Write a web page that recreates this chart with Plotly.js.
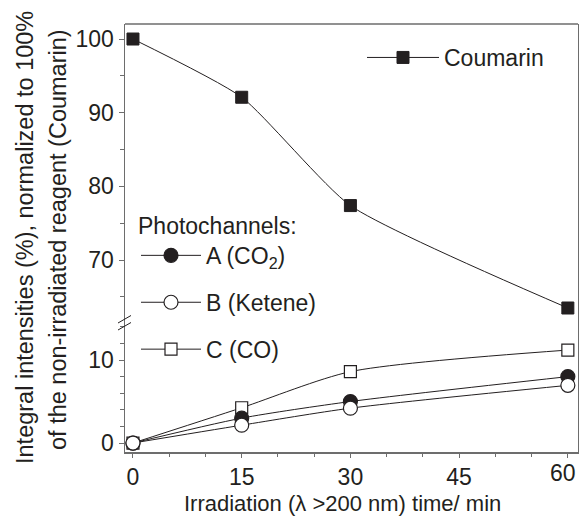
<!DOCTYPE html>
<html>
<head>
<meta charset="utf-8">
<script src="https://cdn.plot.ly/plotly-3.0.1.min.js"></script>
<style>html,body{margin:0;padding:0;background:#fff;}#chart{width:579px;height:516px;}</style>
</head>
<body>
<div id="chart"></div>
<script>
// Data
const time = [0, 15, 30, 60];
const coumarin = [100, 92.1, 77.4, 63.5];
const chanA = [0, 3.0, 5.0, 8.0];   // A (CO2)
const chanB = [0, 2.15, 4.2, 6.95]; // B (Ketene)
const chanC = [0, 4.25, 8.6, 11.2]; // C (CO)
const xTicks = [0, 15, 30, 45, 60];
const xTickText = ['0', '15', '30', '45', ''];  // "60" drawn as annotation (pulled in from the edge)
const upperTicks = [70, 80, 90, 100];
const lowerTicks = [0, 10];

const ink = '#231f20';
const axisCol = '#6d6d6d';
const FONT = 'Liberation Sans, Arial, sans-serif';
const FS = 23;

const L = 125, R = 578, T = 24, B = 452, W = 579, H = 516;
const pw = R - L, ph = B - T;
const breakPx = 322;
const splitFrac = (B - breakPx) / ph;
const px = v => (v - L) / pw;
const py = v => (B - v) / ph;

const lineSpec = {color: ink, width: 1, shape: 'spline', smoothing: 0.7};
const lineSpecTop = {color: ink, width: 1, shape: 'spline', smoothing: 0.55};

const traces = [
  {x: time, y: coumarin, name: 'Coumarin', mode: 'lines+markers', xaxis: 'x', yaxis: 'y2',
   line: lineSpecTop, marker: {symbol: 'square', size: 12, color: ink, line: {color: ink, width: 1}},
   legend: 'legend', legendgroup: 'g0'},
  {x: time, y: chanC, name: 'C (CO)', mode: 'lines+markers', xaxis: 'x', yaxis: 'y',
   line: lineSpec, marker: {symbol: 'square', size: 12, color: '#fff', line: {color: ink, width: 1.2}},
   legend: 'legend2', legendgroup: 'g3', legendrank: 3},
  {x: time, y: chanA, name: 'A (CO<sub>2</sub>)', mode: 'lines+markers', xaxis: 'x', yaxis: 'y',
   line: lineSpec, marker: {symbol: 'circle', size: 14, color: ink, line: {color: ink, width: 1.2}},
   legend: 'legend2', legendgroup: 'g1', legendrank: 1},
  {x: time, y: chanB, name: 'B (Ketene)', mode: 'lines+markers', xaxis: 'x', yaxis: 'y',
   line: lineSpec, marker: {symbol: 'circle', size: 14, color: '#fff', line: {color: ink, width: 1.2}},
   legend: 'legend2', legendgroup: 'g2', legendrank: 2}
];

const tickFont = {family: FONT, size: FS, color: ink};

const layout = {
  width: W, height: H,
  margin: {l: L, r: W - R, t: T, b: H - B, pad: 0},
  paper_bgcolor: '#fff', plot_bgcolor: '#fff',
  font: {family: FONT, color: ink},
  showlegend: true,
  xaxis: {
    domain: [0, 1], anchor: 'y', range: [-1.1, 61.4],
    tickvals: xTicks, ticktext: xTickText,
    ticks: 'outside', ticklen: 4, tickwidth: 1, tickcolor: axisCol,
    minor: {dtick: 5, ticks: 'outside', ticklen: 3, tickwidth: 1, tickcolor: axisCol},
    showline: true, linecolor: axisCol, linewidth: 1.5, showgrid: false, zeroline: false,
    tickfont: tickFont
  },
  yaxis: {
    domain: [0, splitFrac], anchor: 'x', range: [-1.08, 14.58],
    tickvals: lowerTicks, ticktext: lowerTicks.map(String),
    ticks: 'outside', ticklen: 5, tickwidth: 1, tickcolor: axisCol,
    minor: {dtick: 2, tick0: 0, ticks: 'outside', ticklen: 4, tickwidth: 1, tickcolor: axisCol},
    showline: true, mirror: true, linecolor: axisCol, linewidth: 1.5, showgrid: false, zeroline: false,
    tickfont: tickFont
  },
  yaxis2: {
    domain: [splitFrac, 1], anchor: 'x', range: [61.6, 102.04],
    tickvals: upperTicks, ticktext: upperTicks.map(String),
    ticks: 'outside', ticklen: 5, tickwidth: 1, tickcolor: axisCol,
    minor: {dtick: 5, tick0: 0, ticks: 'outside', ticklen: 4, tickwidth: 1, tickcolor: axisCol},
    showline: true, mirror: true, linecolor: axisCol, linewidth: 1.5, showgrid: false, zeroline: false,
    tickfont: tickFont
  },
  legend: {
    x: px(362), y: py(36), xanchor: 'left', yanchor: 'top',
    bgcolor: 'rgba(0,0,0,0)', borderwidth: 0,
    font: {family: FONT, size: FS, color: ink},
    itemwidth: 72, itemclick: false
  },
  legend2: {
    x: px(136), y: py(204), xanchor: 'left', yanchor: 'top',
    bgcolor: 'rgba(0,0,0,0)', borderwidth: 0,
    title: {text: 'Photochannels:', font: {family: FONT, size: FS, color: ink}},
    font: {family: FONT, size: FS, color: ink},
    traceorder: 'grouped', tracegroupgap: 14,
    itemwidth: 60, itemclick: false
  },
  shapes: [
    {type: 'line', xref: 'paper', yref: 'paper', x0: 0, x1: 1, y0: 1, y1: 1, line: {color: axisCol, width: 1.5}},
    {type: 'line', xref: 'paper', yref: 'paper', x0: px(118), y0: py(323), x1: px(131), y1: py(315.5), line: {color: ink, width: 1}},
    {type: 'line', xref: 'paper', yref: 'paper', x0: px(118), y0: py(330), x1: px(131), y1: py(322.5), line: {color: ink, width: 1}}
  ],
  annotations: [
    {text: String(xTicks[4]), xref: 'x', yref: 'paper', x: xTicks[4], y: 0, xshift: -4.5, yshift: -6,
     xanchor: 'center', yanchor: 'top', showarrow: false, font: tickFont},
    {text: 'Integral intensities (%), normalized to 100%', xref: 'paper', yref: 'paper',
     x: px(25), y: py(238), xanchor: 'center', yanchor: 'middle', textangle: -90, showarrow: false,
     font: {family: FONT, size: 23.5, color: ink}},
    {text: 'of the non-irradiated reagent (Coumarin)', xref: 'paper', yref: 'paper',
     x: px(58), y: py(240), xanchor: 'center', yanchor: 'middle', textangle: -90, showarrow: false,
     font: {family: FONT, size: 23.5, color: ink}},
    {text: 'Irradiation (λ >200 nm) time/ min', xref: 'paper', yref: 'paper',
     x: px(342), y: py(503), xanchor: 'center', yanchor: 'middle', showarrow: false,
     font: {family: FONT, size: 22, color: ink}}
  ]
};

Plotly.newPlot('chart', traces, layout, {displayModeBar: false, staticPlot: true});
</script>
</body>
</html>
